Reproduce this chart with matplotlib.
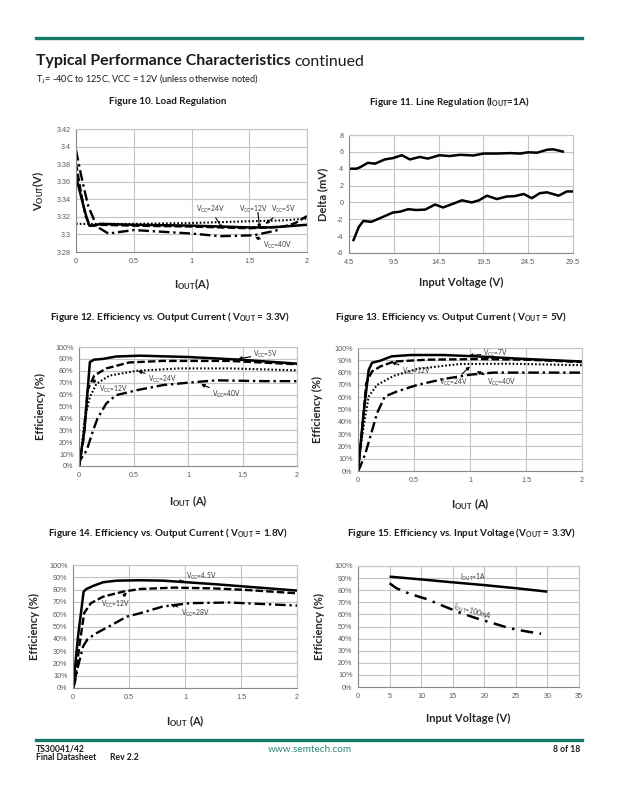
import matplotlib
matplotlib.use("Agg")
import matplotlib.pyplot as plt

W, H = 618, 800
plt.rcParams['font.family'] = ['Lato', 'DejaVu Sans']
plt.rcParams['mathtext.default'] = 'regular'

TEAL = '#15796a'
GRID = '#c4c4c4'
TICKC = '#5a5a5a'

# ---------------- data ----------------
# Figure 10: Load regulation (V_OUT vs I_OUT)
f10_x_5v = [0.0, 0.5, 1.0, 1.5, 1.8, 2.0]
f10_y_5v = [3.312, 3.312, 3.313, 3.315, 3.316, 3.318]
f10_x_12v = [0.0, 0.04, 0.08, 0.12, 0.2, 0.5, 1.0, 1.5, 1.8, 1.9, 2.0]
f10_y_12v = [3.381, 3.35, 3.322, 3.310, 3.311, 3.310, 3.309, 3.307, 3.309, 3.313, 3.321]
f10_x_24v = [0.0, 0.05, 0.09, 0.116, 0.16, 0.21, 0.5, 1.0, 1.5, 1.7, 2.0]
f10_y_24v = [3.366, 3.34, 3.32, 3.310, 3.310, 3.312, 3.311, 3.310, 3.308, 3.308, 3.311]
f10_x_40v = [0.0, 0.035, 0.07, 0.107, 0.18, 0.28, 0.5, 1.0, 1.25, 1.54, 1.75]
f10_y_40v = [3.396, 3.373, 3.352, 3.332, 3.309, 3.301, 3.305, 3.301, 3.298, 3.299, 3.305]
f10_yticks = [3.28, 3.30, 3.32, 3.34, 3.36, 3.38, 3.40, 3.42]
f10_yticklabels = ['3.28', '3.3', '3.32', '3.34', '3.36', '3.38', '3.4', '3.42']
f10_xticks = [0, 0.5, 1, 1.5, 2]
f10_xticklabels = ['0', '0.5', '1', '1.5', '2']

# Figure 11: Line regulation (Delta mV vs input voltage)
f11_x_up = [4.5, 5.3, 5.7, 6.6, 7.4, 8.5, 9.4, 10.4, 11.3, 12.4, 13.3, 14.6, 15.7, 16.9,
            18.4, 19.5, 21.0, 22.5, 23.6, 24.5, 25.5, 26.6, 27.3, 28.5]
f11_y_up = [4.0, 4.0, 4.15, 4.7, 4.6, 5.1, 5.26, 5.6, 5.1, 5.4, 5.2, 5.6, 5.5, 5.65,
            5.57, 5.8, 5.8, 5.85, 5.8, 5.95, 5.9, 6.25, 6.3, 6.0]
f11_x_lo = [4.95, 5.6, 6.1, 7.0, 8.1, 9.4, 10.2, 11.1, 12.0, 13.0, 14.1, 15.0, 16.0, 17.1,
            18.2, 19.0, 19.9, 21.0, 22.1, 23.0, 24.0, 24.9, 25.8, 26.6, 27.9, 28.8, 29.5]
f11_y_lo = [-4.6, -2.9, -2.2, -2.3, -1.8, -1.2, -1.1, -0.8, -0.9, -0.85, -0.25, -0.6, -0.2, 0.25,
            0.0, 0.25, 0.8, 0.4, 0.7, 0.75, 1.0, 0.5, 1.1, 1.2, 0.8, 1.3, 1.3]
f11_xticks = [4.5, 9.5, 14.5, 19.5, 24.5, 29.5]
f11_xticklabels = ['4.5', '9.5', '14.5', '19.5', '24.5', '29.5']
f11_yticks = [-6, -4, -2, 0, 2, 4, 6, 8]
f11_yticklabels = ['-6', '-4', '-2', '0', '2', '4', '6', '8']

# Figure 12: Efficiency vs I_OUT (V_OUT=3.3V)
f12_x_5v = [0.0, 0.05, 0.1, 0.14, 0.22, 0.34, 0.56, 1.0, 1.47, 2.0]
f12_y_5v = [0, 30, 87.4, 89.4, 90, 92, 92.7, 91.6, 89.4, 86]
f12_x_12v = [0.0, 0.04, 0.08, 0.14, 0.25, 0.46, 0.77, 1.38, 2.0]
f12_y_12v = [0, 22, 64, 76, 82, 87, 88.3, 88.3, 85.5]
f12_x_24v = [0.0, 0.02, 0.05, 0.1, 0.16, 0.28, 0.53, 0.92, 1.38, 2.0]
f12_y_24v = [0, 10.6, 38.5, 58, 69, 76, 80, 82, 82, 80.4]
f12_x_40v = [0.0, 0.01, 0.07, 0.13, 0.17, 0.25, 0.34, 0.53, 0.77, 1.0, 1.26, 1.69, 2.0]
f12_y_40v = [0, 5, 13, 30, 40, 52.5, 59.5, 63.7, 68, 70, 72, 71.3, 71.3]

# Figure 13: Efficiency vs I_OUT (V_OUT=5V)
f13_x_7v = [0.0, 0.05, 0.095, 0.125, 0.2, 0.3, 0.47, 0.76, 1.06, 1.51, 2.0]
f13_y_7v = [0, 47, 82, 88, 89.7, 93.2, 94.3, 94.3, 93.2, 91, 89]
f13_x_12v = [0.0, 0.036, 0.074, 0.125, 0.2, 0.32, 0.62, 1.06, 1.51, 2.0]
f13_y_12v = [0, 33, 71.5, 81, 85, 89, 90.5, 91, 90.5, 88.6]
f13_x_24v = [0.0, 0.02, 0.05, 0.095, 0.17, 0.32, 0.53, 0.91, 1.36, 2.0]
f13_y_24v = [0, 17, 36, 60.6, 70, 77.4, 83, 87, 87.2, 86]
f13_x_40v = [0.0, 0.02, 0.065, 0.11, 0.17, 0.24, 0.35, 0.53, 0.76, 1.0, 1.21, 2.0]
f13_y_40v = [0, 3.5, 14, 28, 47, 60.6, 64.7, 70, 74.7, 78.3, 80, 80]

# Figure 14: Efficiency vs I_OUT (V_OUT=1.8V)
f14_x_45v = [0.0, 0.045, 0.095, 0.12, 0.18, 0.27, 0.39, 0.6, 0.8, 1.01, 1.28, 1.55, 2.0]
f14_y_45v = [0, 42, 78.4, 80.5, 83, 86, 87.3, 87.6, 87.3, 86, 84.3, 82.4, 79.2]
f14_x_12v = [0.0, 0.024, 0.06, 0.1, 0.16, 0.27, 0.45, 0.6, 0.9, 1.25, 1.55, 2.0]
f14_y_12v = [0, 9.5, 36.5, 61, 69, 74.3, 78.4, 80.5, 81.6, 81, 79.7, 77]
f14_x_28v = [0.0, 0.015, 0.045, 0.09, 0.13, 0.21, 0.33, 0.48, 0.6, 0.8, 1.04, 1.4, 2.0]
f14_y_28v = [0, 4, 17.6, 33.8, 39.7, 44.6, 50.5, 58, 60.8, 66.2, 69, 69.5, 67]

eff_xticks = [0, 0.5, 1, 1.5, 2]
eff_xticklabels = ['0', '0.5', '1', '1.5', '2']
eff_yticks = [0, 10, 20, 30, 40, 50, 60, 70, 80, 90, 100]
eff_yticklabels = ['0%', '10%', '20%', '30%', '40%', '50%', '60%', '70%', '80%', '90%', '100%']

# Figure 15: Efficiency vs input voltage (V_OUT=3.3V)
f15_x_1a = [5.0, 9.8, 15.0, 19.8, 25.1, 30.0]
f15_y_1a = [91.2, 89, 86.5, 84.3, 81.6, 78.8]
f15_x_100ma = [5.0, 6.1, 8.2, 10.8, 13.5, 16.1, 18.7, 21.4, 24.0, 26.7, 29.0]
f15_y_100ma = [85.7, 81.6, 77, 72.8, 67, 61.5, 56.9, 52.7, 48.6, 45.9, 44]
f15_xticks = [0, 5, 10, 15, 20, 25, 30, 35]
f15_xticklabels = ['0', '5', '10', '15', '20', '25', '30', '35']

# ---------------- styles ----------------
SOLID = dict(color='black', lw=1.8, linestyle='-', solid_capstyle='butt')
DASH = dict(color='black', lw=1.7, linestyle=(0, (3.2, 1.3)))
DOT = dict(color='black', lw=1.5, linestyle=(0, (0.8, 1.0)))
DASHDOT = dict(color='black', lw=1.7, linestyle=(0, (4.5, 1.6, 1.0, 1.6)))

fig = plt.figure(figsize=(W / 100, H / 100), dpi=100)


def px_axes(x0, y0, x1, y1):
    return fig.add_axes([x0 / W, 1 - y1 / H, (x1 - x0) / W, (y1 - y0) / H])


def ftext(x, y, s, **kw):
    return fig.text(x / W, 1 - y / H, s, **kw)


def setup(ax, xlim, xt, xtl, ylim, yt, ytl, box, xlab, ylab, xlab_y, ylab_x):
    ax.set_xlim(*xlim)
    ax.set_ylim(*ylim)
    ax.set_xticks(xt)
    ax.set_xticklabels(xtl)
    ax.set_yticks(yt)
    ax.set_yticklabels(ytl)
    ax.grid(True, color=GRID, lw=0.8)
    ax.set_axisbelow(True)
    for s in ['top', 'right']:
        ax.spines[s].set_color(GRID)
        ax.spines[s].set_linewidth(0.8)
    for s in ['left', 'bottom']:
        ax.spines[s].set_color('#8a8a8a')
        ax.spines[s].set_linewidth(0.8)
    ax.tick_params(axis='both', length=0, labelsize=5.2, colors=TICKC, pad=4)
    for lab in ax.get_xticklabels() + ax.get_yticklabels():
        lab.set_family(['Liberation Sans', 'DejaVu Sans'])
    x0, y0, x1, y1 = box
    ax.set_xlabel(xlab, fontsize=8, fontweight='bold', color='#262626')
    ax.set_ylabel(ylab, fontsize=8, fontweight='bold', color='#262626')
    ax.xaxis.set_label_coords(0.5, -(xlab_y - y1) / (y1 - y0))
    ax.yaxis.set_label_coords(-(x0 - ylab_x) / (x1 - x0), 0.5)


ARROW = dict(arrowstyle='-|>', color='black', lw=0.8, mutation_scale=5, shrinkA=0, shrinkB=0)


def note(ax, s, xy, xytext, ha='left', va='center'):
    ax.annotate(s, xy=xy, xytext=xytext, fontsize=4.8, color='#3a3a3a',
                ha=ha, va=va, arrowprops=ARROW)


# ---------------- header ----------------
fig.add_artist(plt.Line2D([36 / W, 582 / W], [1 - 37.7 / H] * 2, color=TEAL, lw=2.4))
t1 = ftext(36, 61.5, 'Typical Performance Characteristics', fontsize=11.4,
           fontweight='bold', color='#1a1a1a', va='center', ha='left')
fig.canvas.draw()
bb = t1.get_window_extent(fig.canvas.get_renderer())
fig.text(bb.x1 / W + 4 / W, 1 - 61.5 / H, 'continued', fontsize=11.4, color='#1a1a1a',
         va='center', ha='left')
ftext(36, 78.5, 'T$_{J}$= -40C to 125C, VCC = 12V (unless otherwise noted)', fontsize=6.6,
      color='#1a1a1a', va='center', ha='left')

# figure titles
TT = dict(fontsize=7.1, fontweight='bold', color='#1a1a1a', va='center', ha='center')
ftext(168, 101.7, 'Figure 10. Load Regulation', **TT)
ftext(449, 101.7, 'Figure 11. Line Regulation (I$_{OUT}$=1A)', **TT)
ftext(170, 317.5, 'Figure 12. Efficiency vs. Output Current ( V$_{OUT}$ = 3.3V)', **TT)
ftext(451, 317.5, 'Figure 13. Efficiency vs. Output Current ( V$_{OUT}$ = 5V)', **TT)
ftext(168, 533.5, 'Figure 14. Efficiency vs. Output Current ( V$_{OUT}$ = 1.8V)', **TT)
ftext(461, 533.5, 'Figure 15. Efficiency vs. Input Voltage (V$_{OUT}$ = 3.3V)', **TT)

# ---------------- Figure 10 ----------------
b = (76, 129, 307, 252)
ax = px_axes(*b)
ax.plot(f10_x_5v, f10_y_5v, **DOT)
ax.plot(f10_x_12v, f10_y_12v, **DASH)
ax.plot(f10_x_24v, f10_y_24v, **SOLID)
ax.plot(f10_x_40v, f10_y_40v, **DASHDOT)
setup(ax, (0, 2), f10_xticks, f10_xticklabels, (3.28, 3.42), f10_yticks, f10_yticklabels,
      b, 'I$_{OUT}$(A)', 'V$_{OUT}$(V)', 276, 46)
note(ax, 'V$_{CC}$=24V', (1.27, 3.306), (1.04, 3.3285))
ax.text(1.41, 3.3285, 'V$_{CC}$=12V', fontsize=4.8, color='#3a3a3a', ha='left', va='center')
ax.annotate('', xy=(1.59, 3.307), xytext=(1.575, 3.325), arrowprops=ARROW)
note(ax, 'V$_{CC}$=5V', (1.64, 3.312), (1.69, 3.3285))
note(ax, 'V$_{CC}$=40V', (1.55, 3.297), (1.62, 3.2875))

# ---------------- Figure 11 ----------------
b = (349, 135, 573, 253)
ax = px_axes(*b)
ax.plot(f11_x_up, f11_y_up, **SOLID)
ax.plot(f11_x_lo, f11_y_lo, **SOLID)
setup(ax, (4.5, 29.5), f11_xticks, f11_xticklabels, (-6, 8), f11_yticks, f11_yticklabels,
      b, 'Input Voltage (V)', 'Delta (mV)', 276.5, 328)

# ---------------- Figure 12 ----------------
b = (79, 347, 297, 466)
ax = px_axes(*b)
ax.plot(f12_x_24v, f12_y_24v, **DOT)
ax.plot(f12_x_40v, f12_y_40v, **DASHDOT)
ax.plot(f12_x_12v, f12_y_12v, **DASH)
ax.plot(f12_x_5v, f12_y_5v, **SOLID)
setup(ax, (0, 2), eff_xticks, eff_xticklabels, (0, 100), eff_yticks, eff_yticklabels,
      b, 'I$_{OUT}$ (A)', 'Efficiency (%)', 493, 46)
note(ax, 'V$_{CC}$=5V', (1.46, 90), (1.6, 94))
note(ax, 'V$_{CC}$=24V', (0.54, 80), (0.63, 72.6))
note(ax, 'V$_{CC}$=12V', (0.11, 72.6), (0.18, 64))
note(ax, 'V$_{CC}$=40V', (1.12, 68.7), (1.22, 60))

# ---------------- Figure 13 ----------------
b = (358, 348, 582, 471)
ax = px_axes(*b)
ax.plot(f13_x_24v, f13_y_24v, **DOT)
ax.plot(f13_x_40v, f13_y_40v, **DASHDOT)
ax.plot(f13_x_12v, f13_y_12v, **DASH)
ax.plot(f13_x_7v, f13_y_7v, **SOLID)
setup(ax, (0, 2), eff_xticks, eff_xticklabels, (0, 100), eff_yticks, eff_yticklabels,
      b, 'I$_{OUT}$ (A)', 'Efficiency (%)', 496, 323)
note(ax, 'V$_{CC}$=7V', (0.99, 93.7), (1.12, 96))
note(ax, 'V$_{CC}$=12V', (0.3, 88.6), (0.39, 81))
note(ax, 'V$_{CC}$=24V', (1.0, 85), (0.72, 72))
note(ax, 'V$_{CC}$=40V', (1.06, 81), (1.15, 72))

# ---------------- Figure 14 ----------------
b = (73, 565, 297, 688)
ax = px_axes(*b)
ax.plot(f14_x_28v, f14_y_28v, **DASHDOT)
ax.plot(f14_x_12v, f14_y_12v, **DASH)
ax.plot(f14_x_45v, f14_y_45v, **SOLID)
setup(ax, (0, 2), eff_xticks, eff_xticklabels, (0, 100), eff_yticks, eff_yticklabels,
      b, 'I$_{OUT}$ (A)', 'Efficiency (%)', 713, 40)
note(ax, 'V$_{CC}$=4.5V', (0.93, 86), (1.01, 90.5))
note(ax, 'V$_{CC}$=12V', (0.48, 77.6), (0.25, 68))
note(ax, 'V$_{CC}$=28V', (0.87, 68), (0.96, 61))

# ---------------- Figure 15 ----------------
b = (358, 566, 579, 687)
ax = px_axes(*b)
ax.plot(f15_x_1a, f15_y_1a, **SOLID)
ax.plot(f15_x_100ma, f15_y_100ma, color='black', lw=1.8, linestyle=(0, (5, 2.6, 1.0, 2.6)))
setup(ax, (0, 35), f15_xticks, f15_xticklabels, (0, 100), eff_yticks, eff_yticklabels,
      b, 'Input Voltage (V)', 'Efficiency (%)', 712.5, 325)
ax.text(16.1, 90.6, 'I$_{OUT}$=1A', fontsize=4.8, color='#3a3a3a', ha='left', va='center')
ax.text(15.2, 66.5, 'I$_{OUT}$=100mA', fontsize=4.8, color='#3a3a3a', rotation=-16,
        ha='left', va='center', rotation_mode='anchor')

# ---------------- footer ----------------
fig.add_artist(plt.Line2D([36 / W, 582 / W], [1 - 739.7 / H] * 2, color=TEAL, lw=2.4))
ftext(36, 749, 'TS30041/42', fontsize=6.2, fontweight='bold', color='#1a1a1a', va='center')
ftext(36, 758, 'Final Datasheet', fontsize=6.2, fontweight='bold', color='#1a1a1a', va='center')
ftext(110, 758, 'Rev 2.2', fontsize=6.2, fontweight='bold', color='#1a1a1a', va='center')
ftext(310, 750, 'www.semtech.com', fontsize=7.2, color='#2a8a78', va='center', ha='center')
ftext(580, 749, '8 of 18', fontsize=6.2, fontweight='bold', color='#1a1a1a', va='center',
      ha='right')

fig.savefig('out.png', dpi=100, facecolor='white')
